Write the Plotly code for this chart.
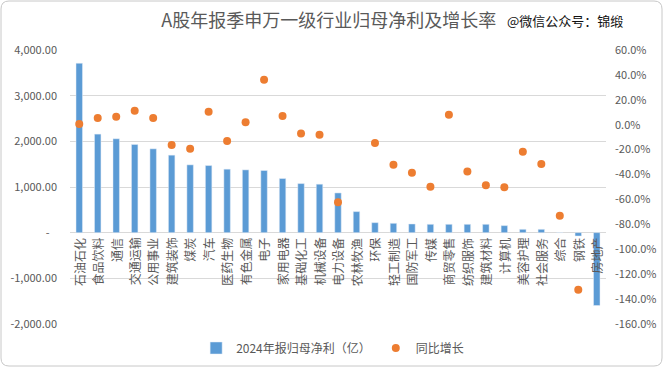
import plotly.graph_objects as go

categories = ["石油石化", "食品饮料", "通信", "交通运输", "公用事业", "建筑装饰", "煤炭", "汽车",
              "医药生物", "有色金属", "电子", "家用电器", "基础化工", "机械设备", "电力设备",
              "农林牧渔", "环保", "轻工制造", "国防军工", "传媒", "商贸零售", "纺织服饰",
              "建筑材料", "计算机", "美容护理", "社会服务", "综合", "钢铁", "房地产"]

net_profit = [3710, 2158, 2056, 1931, 1836, 1697, 1485, 1470,
              1390, 1375, 1361, 1185, 1075, 1061, 870,
              461, 219, 205, 190, 183, 183, 183,
              183, 154, 73, 73, 5, -73, -1595]

growth_pct = [0.5, 5.4, 6.5, 11.3, 5.4, -16.2, -19.2, 10.5,
              -13.0, 1.9, 36.2, 7.0, -7.0, -8.1, -62.3,
              None, -14.6, -32.1, -38.6, -49.7, 8.1, -37.5,
              -48.6, -50.2, -21.6, -31.6, -73.1, -132.5, None]

left_ticks = [-2000, -1000, 0, 1000, 2000, 3000, 4000]
left_ticktext = ["-2,000.00", "-1,000.00", "-   ", "1,000.00", "2,000.00", "3,000.00", "4,000.00"]
right_ticks = [-160, -140, -120, -100, -80, -60, -40, -20, 0, 20, 40, 60]
right_ticktext = [f"{v:.1f}%" for v in right_ticks]

W, H = 664, 368
L, R, T, B = 70, 58, 50, 44
PW, PH = W - L - R, H - T - B
FONT = "Noto Sans CJK SC"
GRAY = "#595959"

def px(x):
    return (x - L) / PW

def py(y):
    return (H - B - y) / PH

fig = go.Figure()
fig.add_trace(go.Bar(
    x=categories, y=net_profit, name="2024年报归母净利（亿）",
    marker=dict(color="#5B9BD5"), width=0.35, yaxis="y"))
fig.add_trace(go.Scatter(
    x=categories, y=growth_pct, name="同比增长", mode="markers",
    marker=dict(color="#ED7D31", size=8), yaxis="y2", cliponaxis=True))

for c in categories:
    fig.add_annotation(x=c, y=0, xref="x", yref="y", text=c, textangle=-90,
                       showarrow=False, yanchor="top", xanchor="center", yshift=-3,
                       font=dict(family=FONT, size=12, color=GRAY))

fig.add_annotation(xref="paper", yref="paper", x=px(505), y=py(21), text="@微信公众号：锦缎",
                   showarrow=False, xanchor="left", yanchor="middle",
                   font=dict(family=FONT, size=13, color="#111111"))

# rounded frame
x0, x1, y0, y1, r = 1, 662, 1, 366, 8
path = (f"M {px(x0 + r)} {py(y0)} L {px(x1 - r)} {py(y0)} "
        f"Q {px(x1)} {py(y0)} {px(x1)} {py(y0 + r)} L {px(x1)} {py(y1 - r)} "
        f"Q {px(x1)} {py(y1)} {px(x1 - r)} {py(y1)} L {px(x0 + r)} {py(y1)} "
        f"Q {px(x0)} {py(y1)} {px(x0)} {py(y1 - r)} L {px(x0)} {py(y0 + r)} "
        f"Q {px(x0)} {py(y0)} {px(x0 + r)} {py(y0)} Z")
fig.add_shape(type="path", path=path, xref="paper", yref="paper",
              line=dict(color="#C8C8C8", width=1), layer="below")

fig.update_layout(
    width=W, height=H, margin=dict(l=L, r=R, t=T, b=B, autoexpand=False),
    paper_bgcolor="white", plot_bgcolor="white",
    font=dict(family=FONT, size=11, color=GRAY),
    title=dict(text="A股年报季申万一级行业归母净利及增长率", x=0.495, xref="container",
               xanchor="center", y=1 - 21 / H, yref="container", yanchor="middle",
               font=dict(family=FONT, size=18, color=GRAY)),
    xaxis=dict(type="category", showticklabels=False, showgrid=False, zeroline=False,
               showline=False, range=[-0.5, len(categories) - 0.5]),
    yaxis=dict(range=[-2000, 4000], tickvals=left_ticks, ticktext=left_ticktext,
               showgrid=True, gridcolor="#D9D9D9", gridwidth=1, zeroline=True,
               zerolinecolor="#D9D9D9", zerolinewidth=1, ticks="", ticklabelstandoff=12,
               tickfont=dict(family=FONT, size=11, color=GRAY)),
    yaxis2=dict(range=[-160, 60], overlaying="y", side="right", tickvals=right_ticks,
                ticktext=right_ticktext, showgrid=False, zeroline=False, ticks="",
                ticklabelstandoff=8, tickfont=dict(family=FONT, size=11, color=GRAY)),
    legend=dict(orientation="h", x=0.49, xanchor="center", y=py(348), yanchor="middle",
                font=dict(family=FONT, size=12, color=GRAY), itemwidth=30,
                bgcolor="rgba(0,0,0,0)"),
    showlegend=True, bargap=0.65,
)

fig.write_html("out.html", config={"displayModeBar": False},
               post_script="document.body.style.margin='0';")
